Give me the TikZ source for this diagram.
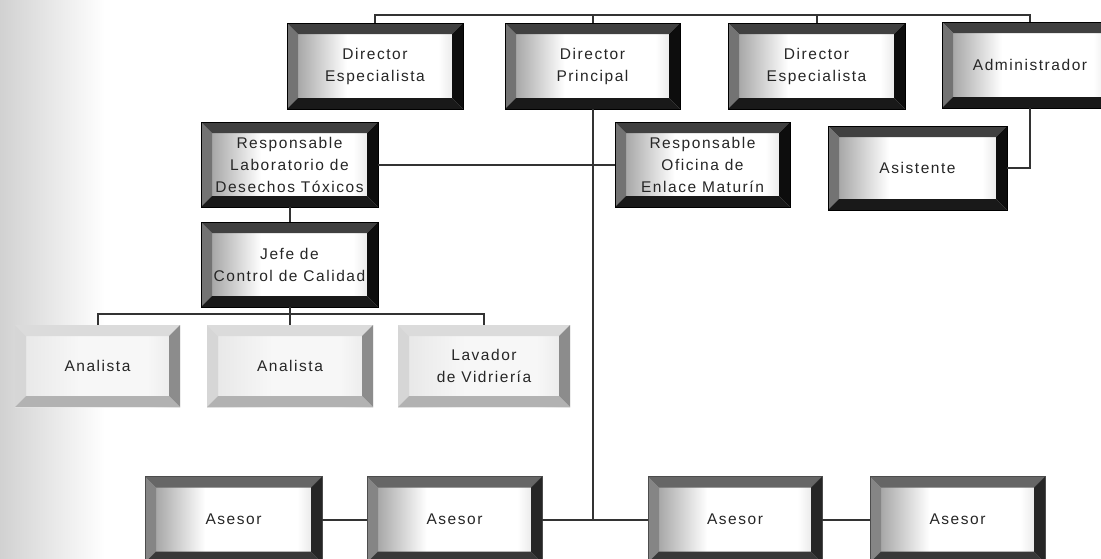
\documentclass[tikz,border=0pt]{standalone}
\usepackage{fontspec}
\newfontfamily\boxfont[LetterSpace=10]{Liberation Sans}
\pgfdeclarehorizontalshading{innerdark}{100bp}{color(0bp)=(black!42); color(25bp)=(black!42); color(42bp)=(white); color(68bp)=(white); color(75bp)=(black!14); color(100bp)=(black!14)}
\pgfdeclarehorizontalshading{innerlight}{100bp}{color(0bp)=(black!10); color(25bp)=(black!10); color(45bp)=(black!3); color(65bp)=(black!3); color(75bp)=(black!9); color(100bp)=(black!9)}
\def\fw{11pt}
\tikzset{
  bevel/.style n args={5}{path picture={
    \path (path picture bounding box.south west) coordinate (bSW)
          (path picture bounding box.north east) coordinate (bNE)
          (path picture bounding box.north west) coordinate (bNW)
          (path picture bounding box.south east) coordinate (bSE);
    \shade[shading=#5] (bSW) rectangle (bNE);
    \fill[#1] (bNW) -- (bNE) -- ([shift={(-\fw,-\fw)}]bNE) -- ([shift={(\fw,-\fw)}]bNW) -- cycle;
    \fill[#2] (bNW) -- (bSW) -- ([shift={(\fw,\fw)}]bSW) -- ([shift={(\fw,-\fw)}]bNW) -- cycle;
    \fill[#3] (bNE) -- (bSE) -- ([shift={(-\fw,\fw)}]bSE) -- ([shift={(-\fw,-\fw)}]bNE) -- cycle;
    \fill[#4] (bSW) -- (bSE) -- ([shift={(-\fw,\fw)}]bSE) -- ([shift={(\fw,\fw)}]bSW) -- cycle;
  }},
  sz/.style 2 args={minimum width=#1pt, minimum height=#2pt},
  boxtext/.style={inner sep=0pt, align=center, font=\boxfont\fontsize{15.5}{22}\selectfont, text=black!85},
  dbox/.style={boxtext, bevel={black!75}{black!55}{black!95}{black!90}{innerdark}, draw=black, line width=0.6pt},
  abox/.style={boxtext, bevel={black!60}{black!48}{black!85}{black!78}{innerdark}, draw=black!70, line width=0.6pt},
  lbox/.style={boxtext, bevel={black!14}{black!16}{black!45}{black!30}{innerlight}},
  conn/.style={draw=black!80, line width=2pt}
}
\begin{document}
\begin{tikzpicture}[x=1pt, y=-1pt]
\useasboundingbox (0,0) rectangle (1101,558);
\clip (0,0) rectangle (1101,558);
\fill[white] (0,0) rectangle (1101,558);
\shade[left color=black!18, right color=white] (0,0) rectangle (105,558);

% top row
\node[dbox, sz={176}{86}] (d1) at (375,66) {Director\\Especialista};
\node[dbox, sz={175}{86}] (d2) at (592.5,66) {Director\\Principal};
\node[dbox, sz={177}{86}] (d3) at (816.5,66) {Director\\Especialista};
\node[dbox, sz={176}{86}] (d4) at (1030,65) {Administrador};

% second row
\node[dbox, sz={177}{85}] (lab) at (289.5,164.5) {Responsable\\Laboratorio de\\Desechos Tóxicos};
\node[dbox, sz={175}{85}] (ofi) at (702.5,164.5) {Responsable\\Oficina de\\Enlace Maturín};
\node[dbox, sz={179}{84}] (asis) at (917.5,168) {Asistente};
\node[dbox, sz={177}{85}] (jefe) at (289.5,264.5) {Jefe de\\Control de Calidad};

% analysts
\node[lbox, sz={165}{82}] (an1) at (97.5,366) {Analista};
\node[lbox, sz={166}{82}] (an2) at (290,366) {Analista};
\node[lbox, sz={172}{82}] (lav) at (484,366) {Lavador\\de Vidriería};

% bottom row
\node[abox, sz={177}{86}] (as1) at (233.5,519.5) {Asesor};
\node[abox, sz={175}{86}] (as2) at (454.5,519.5) {Asesor};
\node[abox, sz={174}{86}] (as3) at (735,519.5) {Asesor};
\node[abox, sz={175}{86}] (as4) at (957.5,519.5) {Asesor};

% connectors
\coordinate (bus) at (0,15);
\draw[conn] (d1.north) -- (d1.north |- bus) -| (d4.north);
\draw[conn] (d2.north) -- (d2.north |- bus);
\draw[conn] (d3.north) -- (d3.north |- bus);
\draw[conn] (d4.south) |- (asis.east);
\draw[conn] (lab.east) -- (ofi.west);
\draw[conn] (lab.south) -- (jefe.north);
\coordinate (abus) at (0,314);
\draw[conn] (jefe.south) -- (jefe.south |- abus);
\draw[conn] (an1.north) -- (an1.north |- abus) -| (lav.north);
\draw[conn] (an2.north) -- (an2.north |- abus);
\draw[conn] (d2.south) -- (d2.south |- as2.east);
\draw[conn] (as1.east) -- (as2.west);
\draw[conn] (as2.east) -- (as3.west);
\draw[conn] (as3.east) -- (as4.west);
\end{tikzpicture}
\end{document}
